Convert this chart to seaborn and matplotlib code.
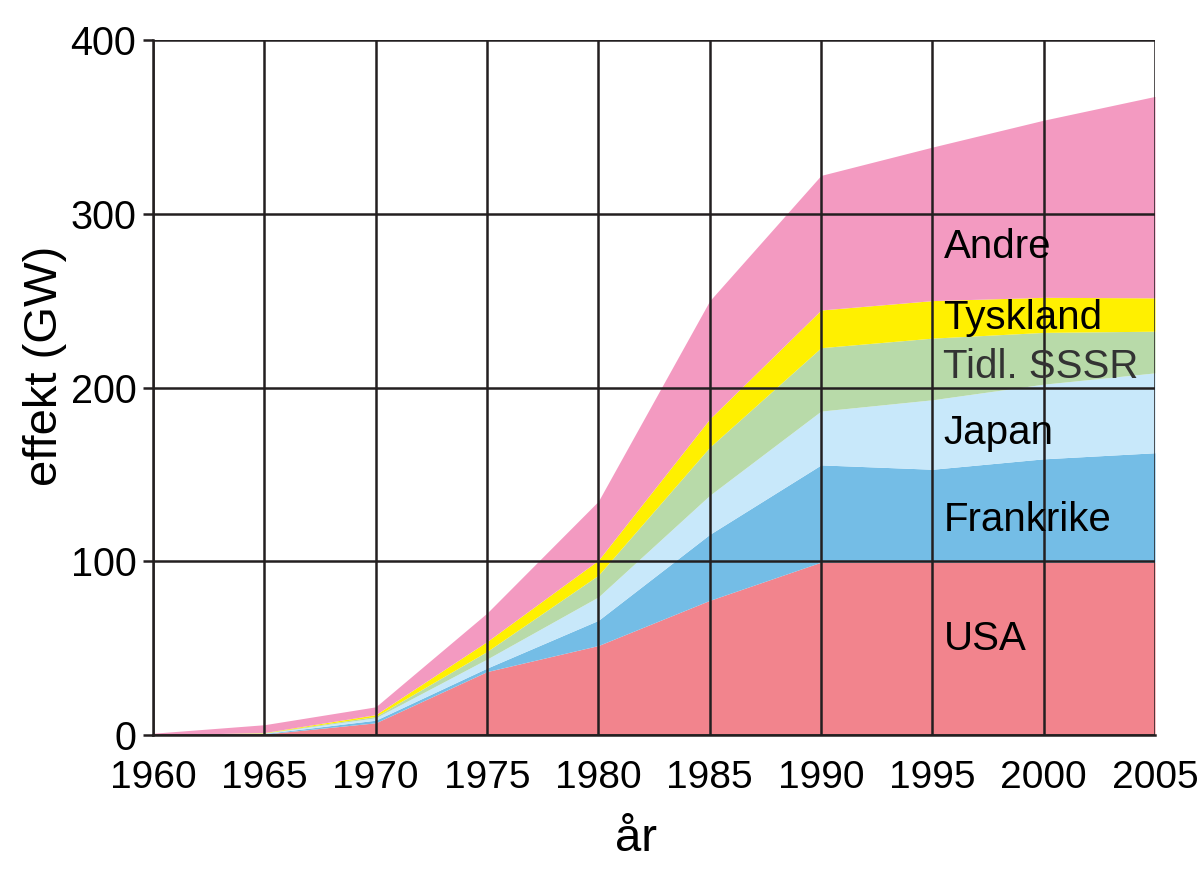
import numpy as np
import pandas as pd
import matplotlib
matplotlib.use("Agg")
import matplotlib.pyplot as plt
import seaborn as sns

years = [1960, 1965, 1970, 1975, 1980, 1985, 1990, 1995, 2000, 2005]
usa = [0.0, 0.5, 7.0, 36.5, 51.5, 77.5, 99.5, 99.5, 99.5, 99.5]
frankrike = [0.0, 0.3, 1.5, 2.0, 14.5, 38.0, 56.0, 53.5, 59.5, 63.0]
japan = [0.0, 0.2, 1.4, 5.2, 13.5, 22.5, 31.0, 40.0, 43.0, 46.0]
sssr = [0.0, 0.2, 0.8, 4.4, 12.5, 27.7, 36.5, 35.5, 29.8, 24.0]
tyskland = [0.0, 0.2, 1.0, 5.7, 8.6, 16.3, 21.7, 21.6, 20.2, 19.2]
andre = [1.0, 4.5, 4.5, 16.4, 34.0, 68.0, 77.5, 88.4, 102.0, 116.0]

series_names = ["USA", "Frankrike", "Japan", "Tidl. SSSR", "Tyskland", "Andre"]
colors = ["#F2848D", "#74BDE6", "#C8E8FA", "#B8DAA9", "#FFF000", "#F39AC1"]
xticks = [1960, 1965, 1970, 1975, 1980, 1985, 1990, 1995, 2000, 2005]
yticks = [0, 100, 200, 300, 400]

df = pd.DataFrame({"år": years, "USA": usa, "Frankrike": frankrike, "Japan": japan,
                   "Tidl. SSSR": sssr, "Tyskland": tyskland, "Andre": andre})

sns.set_theme(style="white")
plt.rcParams["font.family"] = ["Liberation Sans", "DejaVu Sans"]
plt.rcParams["text.color"] = "black"
plt.rcParams["axes.labelcolor"] = "black"
plt.rcParams["xtick.color"] = "black"
plt.rcParams["ytick.color"] = "black"

fig = plt.figure(figsize=(12, 8.76), dpi=100)
ax = fig.add_axes([0.1275, 0.161, 0.835, 0.793])

ax.stackplot(df["år"], *[df[n] for n in series_names], colors=colors, linewidth=0, zorder=1)

gridc = "#231F20"
ax.set_xlim(1960, 2005)
ax.set_ylim(0, 400)
ax.set_xticks(xticks)
ax.set_yticks(yticks)
ax.grid(True, color=gridc, linewidth=1.8, zorder=3)
ax.set_axisbelow(False)
for s in ["top", "right"]:
    ax.spines[s].set_visible(False)
for s in ["left", "bottom"]:
    ax.spines[s].set_color(gridc)
    ax.spines[s].set_linewidth(1.8)
    ax.spines[s].set_zorder(4)

ax.tick_params(axis="y", labelsize=28.5, length=7, width=1.8, color=gridc,
               labelcolor="black", pad=5, left=True)
ax.tick_params(axis="x", labelsize=28, length=0, pad=18, labelcolor="black")
ax.set_xlabel("år", fontsize=34)
ax.set_ylabel("effekt (GW)", fontsize=34)
ax.xaxis.set_label_coords(0.482, -0.118)
ax.yaxis.set_label_coords(-0.086, 0.531)

label_pos = {"Andre": 281, "Tyskland": 240, "Tidl. SSSR": 212, "Japan": 174,
             "Frankrike": 123.5, "USA": 55}
label_col = {"Tidl. SSSR": "#333333"}
for name, yv in label_pos.items():
    ax.text(1995.5, yv, name, fontsize=29, va="center", ha="left",
            color=label_col.get(name, "black"), zorder=5)

fig.savefig("out.png", dpi=100)
